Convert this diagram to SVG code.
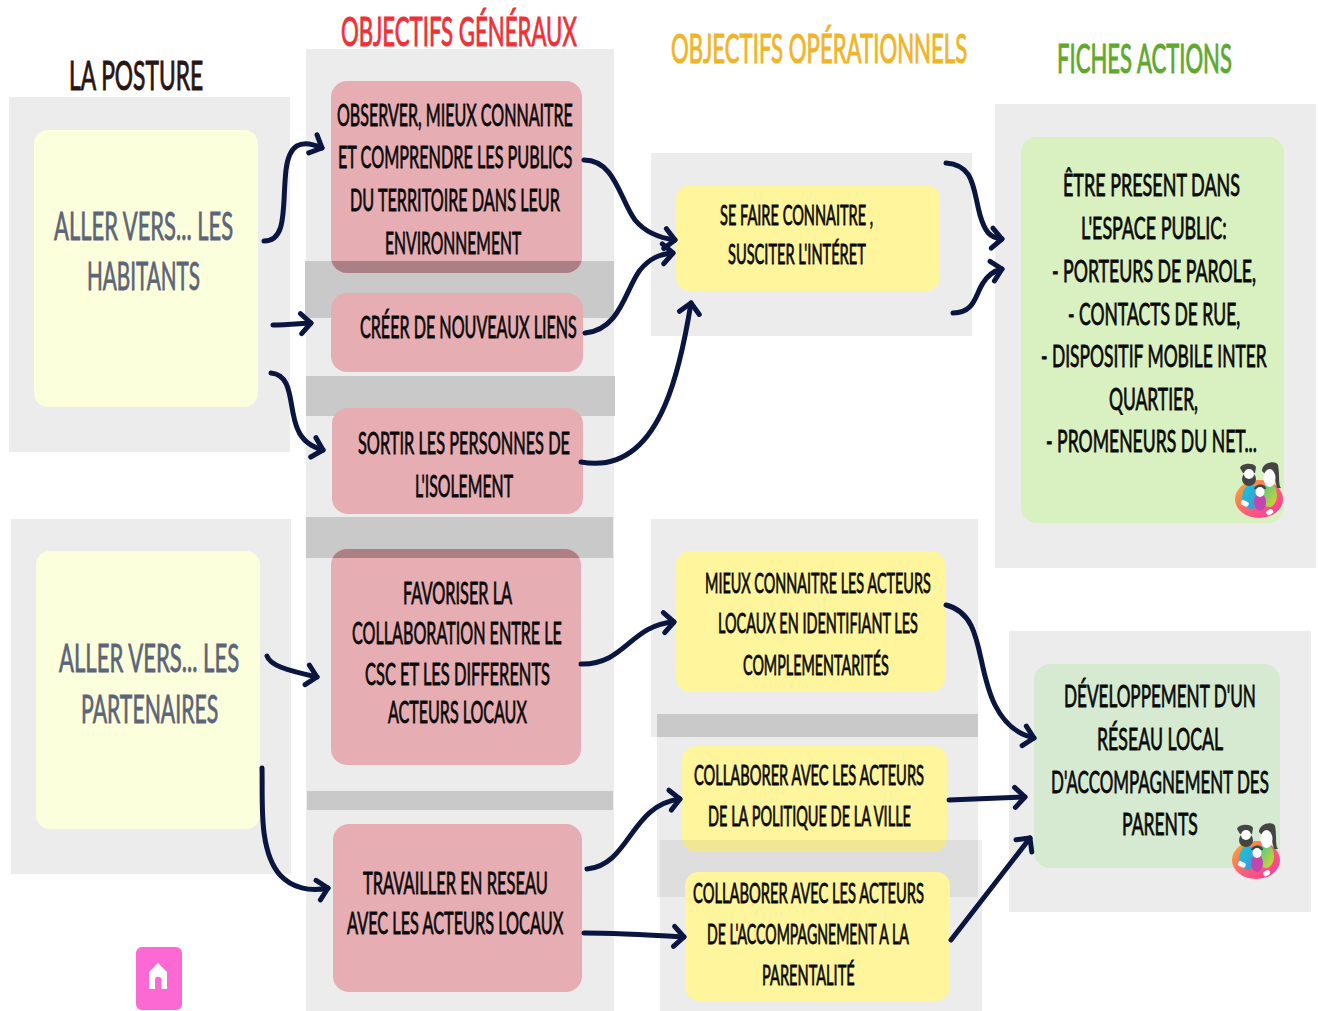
<svg xmlns="http://www.w3.org/2000/svg" width="1321" height="1011" viewBox="0 0 1321 1011">
<style>
text{font-family:"Lato","Liberation Sans",sans-serif;fill:#0a0a0a;font-size:30px;stroke:#0a0a0a;stroke-width:.8px;lengthAdjust:spacingAndGlyphs}
.h{font-size:40px;stroke-width:1px}
.a{font-size:38px;fill:#5d6478;stroke:#5d6478}
.s{font-size:26px}
.m{font-size:27px}
.p{fill:#ececec}
.b{fill:#c9c9c9}
.pk{fill:#e6adb3}
.pkd{fill:#ab7f85}
.y{fill:#fff59d}
.ly{fill:#fbffdc}
.c{fill:none;stroke:#0a1640;stroke-width:5;stroke-linecap:round;stroke-linejoin:round;marker-end:url(#ah)}
</style>
<defs>
<marker id="ah" markerUnits="userSpaceOnUse" markerWidth="30" markerHeight="30" refX="15" refY="15" orient="auto" overflow="visible">
<path d="M5 5 L15 15 L5 25" fill="none" stroke="#0a1640" stroke-width="5" stroke-linecap="round" stroke-linejoin="round"/>
</marker>
<clipPath id="cb1"><rect x="305" y="261" width="309" height="57"/></clipPath>
<clipPath id="cb4"><rect x="306" y="517" width="307" height="41"/></clipPath>
<linearGradient id="gb" x1="0" y1="0" x2="1" y2="1"><stop offset="0" stop-color="#f9b21c"/><stop offset=".55" stop-color="#fb5c7c"/><stop offset="1" stop-color="#f936a0"/></linearGradient>
<linearGradient id="gt" x1="0" y1="0" x2="1" y2="1"><stop offset="0" stop-color="#10c8dc"/><stop offset="1" stop-color="#4f8fd0"/></linearGradient>
<linearGradient id="gg" x1="0" y1="0" x2="1" y2="1"><stop offset="0" stop-color="#35c89a"/><stop offset="1" stop-color="#e8d420"/></linearGradient>
<g id="fam">
<ellipse cx="25" cy="38" rx="24" ry="19" fill="url(#gb)"/>
<ellipse cx="17" cy="36" rx="9" ry="12" fill="url(#gt)"/>
<ellipse cx="35" cy="34" rx="8" ry="12" fill="url(#gg)"/>
<ellipse cx="26" cy="41" rx="6" ry="9" fill="#c246b0"/>
<path d="M6 7 C7 2 20 1 22 6 L21 12 L9 12 Z" fill="#444"/>
<ellipse cx="15" cy="18" rx="7" ry="7" fill="#444"/>
<ellipse cx="15" cy="13" rx="5" ry="5" fill="#fff"/>
<path d="M28 10 C28 1 42 -1 44 4 C46 14 44 24 47 27 L43 27 L40 15 L30 12 Z" fill="#444"/>
<ellipse cx="35.500" cy="17" rx="6" ry="9" fill="#fff"/>
<path d="M20 28 C21 22 32 22 32 28 Z" fill="#444"/>
<ellipse cx="26" cy="31" rx="4.500" ry="5" fill="#fff"/>
<rect x="7" y="40" width="8" height="5" rx="2" fill="#fff" transform="rotate(25 11 42)"/>
<rect x="32" y="49" width="7" height="5" rx="2" fill="#fff" transform="rotate(-30 35 51)"/>
</g>
</defs>

<g id="panels">
<rect class="p" x="9" y="97" width="281" height="355"/>
<rect class="p" x="11" y="519" width="280" height="355"/>
<rect class="p" x="306" y="49" width="308" height="962"/>
<rect class="p" x="651" y="153" width="321" height="183"/>
<rect class="p" x="651" y="519" width="327" height="218"/>
<rect class="p" x="657" y="714" width="321" height="183"/>
<rect class="b" x="657" y="714" width="321" height="23"/>
<rect class="p" x="995" y="104" width="321" height="464"/>
<rect class="p" x="1009" y="631" width="302" height="281"/>
<rect class="b" x="305" y="261" width="309" height="57"/>
<rect class="b" x="306" y="376" width="309" height="40"/>
<rect class="b" x="306" y="517" width="307" height="41"/>
<rect class="b" x="307" y="791" width="306" height="19"/>
</g>

<g id="titles">
<text class="h" transform="translate(69 90) scale(.53 1)" textLength="253" lengthAdjust="spacingAndGlyphs" style="fill:#2a1512;stroke:#2a1512">LA POSTURE</text>
<text class="h" transform="translate(341 46) scale(.53 1)" textLength="445" lengthAdjust="spacingAndGlyphs" style="fill:#ee3138;stroke:#ee3138">OBJECTIFS GÉNÉRAUX</text>
<text class="h" transform="translate(671 63) scale(.53 1)" textLength="559" lengthAdjust="spacingAndGlyphs" style="fill:#f0b429;stroke:#f0b429">OBJECTIFS OPÉRATIONNELS</text>
<text class="h" transform="translate(1057 73) scale(.53 1)" textLength="330" lengthAdjust="spacingAndGlyphs" style="fill:#5fa82e;stroke:#5fa82e">FICHES ACTIONS</text>
</g>

<g id="node-habitants">
<rect class="ly" x="34" y="130" width="224" height="277" rx="14"/>
<text class="a" transform="translate(54 240) scale(.53 1)" textLength="338" lengthAdjust="spacingAndGlyphs">ALLER VERS... LES</text>
<text class="a" transform="translate(87 290) scale(.53 1)" textLength="213" lengthAdjust="spacingAndGlyphs">HABITANTS</text>
</g>
<g id="node-partenaires">
<rect class="ly" x="36" y="551" width="224" height="278" rx="14"/>
<text class="a" transform="translate(59 672) scale(.53 1)" textLength="340" lengthAdjust="spacingAndGlyphs">ALLER VERS... LES</text>
<text class="a" transform="translate(81 723) scale(.53 1)" textLength="259" lengthAdjust="spacingAndGlyphs">PARTENAIRES</text>
</g>

<g id="node-observer">
<rect class="pk" x="331" y="81" width="251" height="192" rx="16"/>
<rect class="pkd" x="331" y="81" width="251" height="192" rx="16" clip-path="url(#cb1)"/>
<text transform="translate(337 126) scale(.53 1)" textLength="445" lengthAdjust="spacingAndGlyphs">OBSERVER, MIEUX CONNAITRE</text>
<text transform="translate(338 168) scale(.53 1)" textLength="442" lengthAdjust="spacingAndGlyphs">ET COMPRENDRE LES PUBLICS</text>
<text transform="translate(350 211) scale(.53 1)" textLength="396" lengthAdjust="spacingAndGlyphs">DU TERRITOIRE DANS LEUR</text>
<text transform="translate(385 254) scale(.53 1)" textLength="257" lengthAdjust="spacingAndGlyphs">ENVIRONNEMENT</text>
</g>
<g id="node-creer">
<rect class="pk" x="331" y="293" width="252" height="79" rx="16"/>
<text transform="translate(360 338) scale(.53 1)" textLength="409" lengthAdjust="spacingAndGlyphs">CRÉER DE NOUVEAUX LIENS</text>
</g>
<g id="node-sortir">
<rect class="pk" x="332" y="408" width="251" height="106" rx="16"/>
<text transform="translate(358 454) scale(.53 1)" textLength="400" lengthAdjust="spacingAndGlyphs">SORTIR LES PERSONNES DE</text>
<text transform="translate(415 497) scale(.53 1)" textLength="185" lengthAdjust="spacingAndGlyphs">L'ISOLEMENT</text>
</g>
<g id="node-favoriser">
<rect class="pk" x="331" y="549" width="250" height="216" rx="16"/>
<rect class="pkd" x="331" y="549" width="250" height="216" rx="16" clip-path="url(#cb4)"/>
<text transform="translate(403 604) scale(.53 1)" textLength="206" lengthAdjust="spacingAndGlyphs">FAVORISER LA</text>
<text transform="translate(352 644) scale(.53 1)" textLength="396" lengthAdjust="spacingAndGlyphs">COLLABORATION ENTRE LE</text>
<text transform="translate(365 685) scale(.53 1)" textLength="349" lengthAdjust="spacingAndGlyphs">CSC ET LES DIFFERENTS</text>
<text transform="translate(388 723) scale(.53 1)" textLength="262" lengthAdjust="spacingAndGlyphs">ACTEURS LOCAUX</text>
</g>
<g id="node-travailler">
<rect class="pk" x="333" y="824" width="249" height="168" rx="16"/>
<text transform="translate(363 894) scale(.53 1)" textLength="349" lengthAdjust="spacingAndGlyphs">TRAVAILLER EN RESEAU</text>
<text transform="translate(347 934) scale(.53 1)" textLength="408" lengthAdjust="spacingAndGlyphs">AVEC LES ACTEURS LOCAUX</text>
</g>

<g id="node-connaitre">
<rect class="y" x="676" y="185" width="264" height="106" rx="14"/>
<text class="s" transform="translate(720 225) scale(.53 1)" textLength="289" lengthAdjust="spacingAndGlyphs">SE FAIRE CONNAITRE ,</text>
<text class="s" transform="translate(728 264) scale(.53 1)" textLength="260" lengthAdjust="spacingAndGlyphs">SUSCITER L'INTÉRET</text>
</g>
<g id="node-mieux">
<rect class="y" x="676" y="551" width="269" height="141" rx="14"/>
<text class="m" transform="translate(705 593) scale(.53 1)" textLength="426" lengthAdjust="spacingAndGlyphs">MIEUX CONNAITRE LES ACTEURS</text>
<text class="m" transform="translate(718 633) scale(.53 1)" textLength="377" lengthAdjust="spacingAndGlyphs">LOCAUX EN IDENTIFIANT LES</text>
<text class="m" transform="translate(743 675) scale(.53 1)" textLength="275" lengthAdjust="spacingAndGlyphs">COMPLEMENTARITÉS</text>
</g>
<g id="node-politique">
<rect class="y" x="682" y="746" width="265" height="106" rx="14"/>
<text class="m" transform="translate(694 785) scale(.53 1)" textLength="434" lengthAdjust="spacingAndGlyphs">COLLABORER AVEC LES ACTEURS</text>
<text class="m" transform="translate(708 826) scale(.53 1)" textLength="383" lengthAdjust="spacingAndGlyphs">DE LA POLITIQUE DE LA VILLE</text>
</g>
<g id="panel-overlap">
<rect x="660" y="840" width="322" height="57" fill="#000" fill-opacity=".06"/>
<rect x="660" y="897" width="322" height="114" fill="#ececec"/>
</g>
<g id="node-parentalite">
<rect class="y" x="685" y="872" width="265" height="129" rx="14"/>
<text class="m" transform="translate(693 903) scale(.53 1)" textLength="436" lengthAdjust="spacingAndGlyphs">COLLABORER AVEC LES ACTEURS</text>
<text class="m" transform="translate(707 944) scale(.53 1)" textLength="381" lengthAdjust="spacingAndGlyphs">DE L'ACCOMPAGNEMENT A LA</text>
<text class="m" transform="translate(762 985) scale(.53 1)" textLength="175" lengthAdjust="spacingAndGlyphs">PARENTALITÉ</text>
</g>

<g id="node-espace-public">
<rect x="1021" y="137" width="263" height="386" rx="16" fill="#d9f0c0"/>
<text transform="translate(1063 196) scale(.53 1)" textLength="334" lengthAdjust="spacingAndGlyphs">ÊTRE PRESENT DANS</text>
<text transform="translate(1081 239) scale(.53 1)" textLength="275" lengthAdjust="spacingAndGlyphs">L'ESPACE PUBLIC:</text>
<text transform="translate(1052 282) scale(.53 1)" textLength="385" lengthAdjust="spacingAndGlyphs">- PORTEURS DE PAROLE,</text>
<text transform="translate(1068 325) scale(.53 1)" textLength="325" lengthAdjust="spacingAndGlyphs">- CONTACTS DE RUE,</text>
<text transform="translate(1041 367) scale(.53 1)" textLength="426" lengthAdjust="spacingAndGlyphs">- DISPOSITIF MOBILE INTER</text>
<text transform="translate(1109 410) scale(.53 1)" textLength="168" lengthAdjust="spacingAndGlyphs">QUARTIER,</text>
<text transform="translate(1046 452) scale(.53 1)" textLength="398" lengthAdjust="spacingAndGlyphs">- PROMENEURS DU NET...</text>
<use href="#fam" x="1234" y="461"/>
</g>
<g id="node-reseau">
<rect x="1034" y="664" width="246" height="204" rx="16" fill="#d5ead0"/>
<text transform="translate(1064 707) scale(.53 1)" textLength="362" lengthAdjust="spacingAndGlyphs">DÉVELOPPEMENT D'UN</text>
<text transform="translate(1097 750) scale(.53 1)" textLength="238" lengthAdjust="spacingAndGlyphs">RÉSEAU LOCAL</text>
<text transform="translate(1051 793) scale(.53 1)" textLength="411" lengthAdjust="spacingAndGlyphs">D'ACCOMPAGNEMENT DES</text>
<text transform="translate(1122 835) scale(.53 1)" textLength="143" lengthAdjust="spacingAndGlyphs">PARENTS</text>
<use href="#fam" x="1231" y="822"/>
</g>

<g id="node-home">
<rect x="136" y="947" width="46" height="63" rx="6" fill="#fd69d2"/>
<path d="M149 972 L158 963 L167 972 L167 989 L161.500 989 L161.500 980 A3 3 0 0 0 155 980 L155 989 L149 989 Z" fill="#fff"/>
</g>

<g id="connectors">
<path class="c" d="M264 241 C288 241 282 205 286 170 C289 145 300 138 322 148"/>
<path class="c" d="M273 325 C285 325 295 324 311 323"/>
<path class="c" d="M271 373 C295 375 288 410 298 430 C303 442 312 447 323 450"/>
<path class="c" d="M584 160 C615 160 620 200 635 220 C645 232 660 238 675 240"/>
<path class="c" d="M585 333 C620 330 625 290 640 270 C650 258 660 254 673 253"/>
<path class="c" d="M581 462 C625 470 650 440 665 405 C678 375 685 340 691 303"/>
<path class="c" d="M946 163 C975 165 973 190 980 215 C985 232 990 238 1002 239"/>
<path class="c" d="M953 313 C975 313 975 295 983 283 C988 275 993 271 1002 269"/>
<path class="c" d="M267 656 C270 665 285 670 317 677"/>
<path class="c" d="M262 768 C263 800 258 850 280 875 C292 888 310 892 328 888"/>
<path class="c" d="M581 664 C625 665 630 625 674 622"/>
<path class="c" d="M587 869 C630 865 630 805 680 799"/>
<path class="c" d="M584 933 C615 933 650 935 684 937"/>
<path class="c" d="M946 605 C985 615 975 665 995 705 C1005 725 1020 735 1034 738"/>
<path class="c" d="M949 800 C975 799 1000 798 1025 797"/>
<path class="c" d="M951 940 L1030 838"/>
</g>
</svg>
